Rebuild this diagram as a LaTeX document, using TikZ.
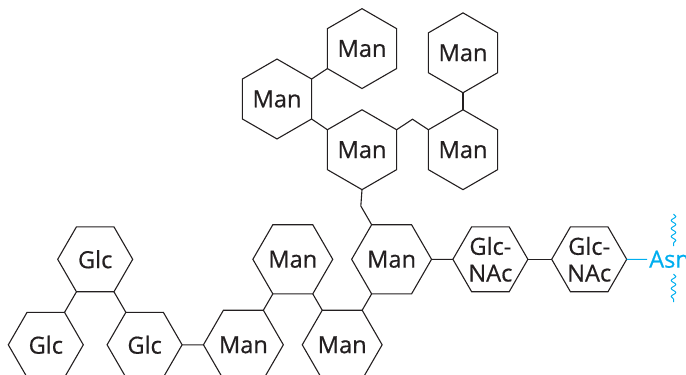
\documentclass[tikz,border=0pt]{standalone}
\usepackage{fontspec}
\setmainfont{Open Sans}[FakeBold=0.6]
\usetikzlibrary{shapes.geometric,calc,decorations.pathmorphing}
\definecolor{ink}{HTML}{231F20}
\definecolor{asncyan}{RGB}{0,174,239}
\begin{document}
\begin{tikzpicture}[x=1pt,y=-1pt,
  hexbase/.style={regular polygon, regular polygon sides=6, minimum size=75pt,
    inner sep=0pt, outer sep=0pt, draw=ink, line width=1.1pt, text=ink,
    font=\fontsize{23.6}{26.7}\selectfont, align=center},
  hexflat/.style={hexbase},
  hexup/.style={hexbase, shape border rotate=30},
  bond/.style={draw=ink, line width=1.1pt},
  cyanbond/.style={draw=asncyan, line width=1.1pt},
  wave/.style={draw=asncyan, line width=1pt, decorate,
    decoration={snake, amplitude=2.3pt, segment length=8pt}}]
\useasboundingbox (0,0) rectangle (686,375);
% upper (pointy-top) hexagons
\node[hexup] (M1) at (362,48.6) {Man};
\node[hexup] (M2) at (277,99) {Man};
\node[hexup] (M3) at (362,149.7) {Man};
\node[hexup] (M4) at (463,149.7) {Man};
\node[hexup] (M5) at (463,52.8) {Man};
% lower (flat-top) hexagons
\node[hexflat] (G1) at (95.2,259.3) {Glc};
\node[hexflat] (L2) at (292.8,259.3) {Man};
\node[hexflat] (L3) at (391.6,259.3) {Man};
\node[hexflat] (N1) at (490.4,259.3) {Glc-\\NAc};
\node[hexflat] (N2) at (589.2,259.3) {Glc-\\NAc};
\node[hexflat] (G2) at (45.8,344.8) {Glc};
\node[hexflat] (G3) at (144.6,344.8) {Glc};
\node[hexflat] (L4) at (243.4,344.8) {Man};
\node[hexflat] (L5) at (342.2,344.8) {Man};
\node[text=asncyan, anchor=west, inner sep=2pt, font=\fontsize{23.6}{26.7}\selectfont] (asn) at (647,259.3) {Asn};
% bonds
\draw[bond] (M1.210) -- (M2.30);
\draw[bond] (M2.330) -- (M3.150);
\draw[bond] (M3.30) -- ($(M3.30)!0.5!(M4.150)+(0,-10.5)$) -- (M4.150);
\draw[bond] (M5.270) -- (M4.90);
\draw[bond] (M3.270) -- ($(L3.120)+(-10.8,-18.7)$) -- (L3.120);
\draw[bond] (G1.240) -- (G2.60);
\draw[bond] (G1.300) -- (G3.120);
\draw[bond] (G3.0) -- (L4.180);
\draw[bond] (L2.240) -- (L4.60);
\draw[bond] (L2.300) -- (L5.120);
\draw[bond] (L3.240) -- (L5.60);
\draw[bond] (L3.0) -- (N1.180);
\draw[bond] (N1.0) -- (N2.180);
\draw[cyanbond] (N2.0) -- (asn.west);
% wavy marks
\coordinate (w1a) at (673.5,214);
\coordinate (w1b) at (673.5,246);
\coordinate (w2a) at (673.5,274);
\coordinate (w2b) at (673.5,302);
\draw[wave] (w1a) -- (w1b);
\draw[wave] (w2a) -- (w2b);
\end{tikzpicture}
\end{document}
